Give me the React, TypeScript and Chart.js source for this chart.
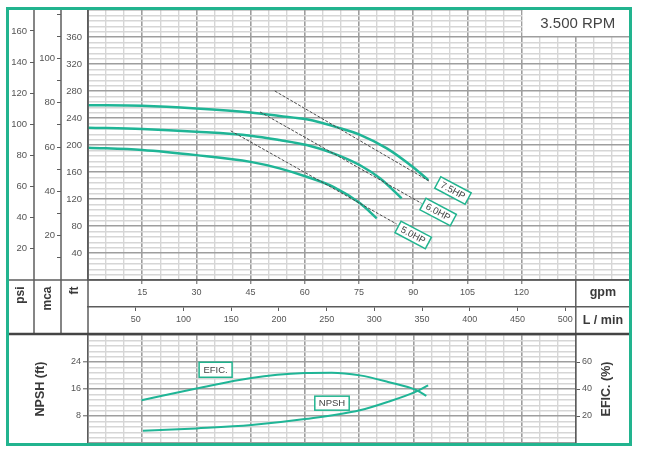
import React, { useEffect, useRef } from 'react';
import { Chart, registerables } from 'chart.js';

Chart.register(...registerables);

// ---------- data ----------
// Pump head curves (flow in gpm, head in ft)
const flow75 = [0, 15, 30, 45, 53, 60.5, 69.7, 75.3, 82.7, 90, 94.2];
const head75 = [259, 258, 254, 248, 243, 238, 225, 215, 195, 167, 148];
const flow60 = [0, 15, 30, 45, 53, 60.5, 67.9, 75.3, 80.8, 86.8];
const head60 = [225.6, 223.7, 219.7, 213.8, 207.4, 200, 187.7, 170, 150.6, 121];
const flow50 = [0, 15, 30, 45, 53, 60.5, 67.9, 75.3, 79.9];
const head50 = [196, 192.6, 185, 175, 165.4, 153, 138, 113.6, 91.4];

// Motor power limit lines
const hpFlow75 = [51.7, 94.7];
const hpHead75 = [280, 145.6];
const hpFlow60 = [47.6, 92.3];
const hpHead60 = [249, 113.6];
const hpFlow50 = [39.5, 85.4];
const hpHead50 = [221, 83];

// Power tags: name, gpm, ft
const hpTagNames = ['7.5HP', '6.0HP', '5.0HP'];
const hpTagFlow = [101, 96.9, 90];
const hpTagHead = [132.6, 100.7, 66.7];

// Efficiency and NPSH
const eficFlow = [14.8, 30, 45.2, 60, 67.4, 75.2, 83, 90.9, 93.6];
const eficPct = [31.7, 40.3, 48.2, 51.8, 52.1, 50.1, 45.2, 39.1, 34.9];
const npshFlow = [15.2, 30, 45.2, 60, 75.2, 83, 90.9, 94.1];
const npshFt = [3.63, 4.33, 5.3, 7.08, 9.7, 12.2, 15.3, 17.1];

// Tick labels
const gpmLabels = [15, 30, 45, 60, 75, 90, 105, 120];
const lpmLabels = [50, 100, 150, 200, 250, 300, 350, 400, 450, 500];
const psiLabels = [20, 40, 60, 80, 100, 120, 140, 160];
const mcaTicks = [10, 20, 30, 40, 50, 60, 70, 80, 90, 100, 110, 120];
const mcaLabels = [20, 40, 60, 80, 100];
const ftLabels = [40, 80, 120, 160, 200, 240, 280, 320, 360];
const npshLabels = [8, 16, 24];
const eficLabels = [20, 40, 60];

const RPM_TEXT = '3.500 RPM';

// ---------- constants ----------
const GPM_MAX = 150;
const GPM_MAX_LOW = 135;
const FT_MAX = 400;
const FT_PER_PSI = 2.30666;
const FT_PER_M = 3.28084;
const LPM_PER_GPM = 3.78541;
const NPSH_MAX = 32;
const EFIC_MAX = 80;

const GREEN = '#22b48f';
const CURVE = '#1fb596';
const TEXT = '#555555';
const TITLE = '#3a3a3a';
const DARK = '#5c5c5c';
const MAJOR = '#9e9e9e';
const MINOR = '#d6d6d6';
const FONT = '"Liberation Sans", Arial, Helvetica, sans-serif';

Chart.defaults.font.family = FONT;

// ---------- helpers ----------
const pts = (xs: number[], ys: number[]) => xs.map((x, i) => ({ x, y: ys[i] }));
const isMult = (v: number, m: number) => {
  const r = v / m;
  return Math.abs(r - Math.round(r)) < 1e-6;
};
const has = (arr: number[], v: number) => arr.some((a) => Math.abs(a - v) < 1e-6);
const steps = (max: number, step: number) => {
  const out: number[] = [];
  for (let k = 0; k * step <= max + 1e-9; k++) out.push(+(k * step).toFixed(6));
  return out;
};
const setTicks = (values: number[]) => (scale: any) => {
  scale.ticks = values.map((v) => ({ value: v }));
};
const fix = (dim: 'width' | 'height', size: number) => (scale: any) => {
  scale[dim] = size;
  scale.paddingTop = 0;
  scale.paddingBottom = 0;
  scale.paddingLeft = 0;
  scale.paddingRight = 0;
};
const tv = (c: any) => (c && c.tick ? c.tick.value : NaN);

function line(ctx: CanvasRenderingContext2D, x1: number, y1: number, x2: number, y2: number) {
  ctx.beginPath();
  ctx.moveTo(x1, y1);
  ctx.lineTo(x2, y2);
  ctx.stroke();
}

function tag(ctx: CanvasRenderingContext2D, x: number, y: number, text: string, angle: number, minW: number, h: number) {
  ctx.save();
  ctx.translate(x, y);
  ctx.rotate(angle);
  ctx.font = `9.5px ${FONT}`;
  const w = Math.max(ctx.measureText(text).width + 8, minW);
  ctx.fillStyle = '#ffffff';
  ctx.fillRect(-w / 2, -h / 2, w, h);
  ctx.strokeStyle = GREEN;
  ctx.lineWidth = 1.5;
  ctx.strokeRect(-w / 2, -h / 2, w, h);
  ctx.fillStyle = '#444444';
  ctx.textAlign = 'center';
  ctx.textBaseline = 'middle';
  ctx.fillText(text, 0, 0.5);
  ctx.restore();
}

function vText(ctx: CanvasRenderingContext2D, text: string, x: number, y: number, align: CanvasTextAlign, size: number) {
  ctx.save();
  ctx.translate(x, y);
  ctx.rotate(-Math.PI / 2);
  ctx.font = `bold ${size}px ${FONT}`;
  ctx.fillStyle = TITLE;
  ctx.textAlign = align;
  ctx.textBaseline = 'middle';
  ctx.fillText(text, 0, 0);
  ctx.restore();
}

// ---------- plugins ----------
const mainDecor = {
  id: 'mainDecor',
  afterDraw(chart: any) {
    const ctx: CanvasRenderingContext2D = chart.ctx;
    const s = chart.scales;
    const area = chart.chartArea;
    const rowEnd = s.lpm.bottom;
    const left = s.psi.left;
    const right = area.right;
    ctx.save();

    // RPM box
    const bx1 = s.x.getPixelForValue(120);
    const bx2 = s.x.getPixelForValue(GPM_MAX);
    const by1 = s.y.getPixelForValue(FT_MAX);
    const by2 = s.y.getPixelForValue(360);
    ctx.fillStyle = '#ffffff';
    ctx.fillRect(bx1 + 1, by1, bx2 - bx1 - 1, by2 - by1 - 1);
    ctx.fillStyle = '#444444';
    ctx.font = `15px ${FONT}`;
    ctx.textAlign = 'center';
    ctx.textBaseline = 'middle';
    ctx.fillText(RPM_TEXT, (bx1 + bx2) / 2 + 2, (by1 + by2) / 2 + 0.5);

    // frame lines
    ctx.strokeStyle = DARK;
    ctx.lineWidth = 1.5;
    [s.psi.right, s.mca.right, s.y.right].forEach((x: number) => line(ctx, x, area.top, x, rowEnd));
    line(ctx, left, area.bottom, right, area.bottom);
    const xd = s.x.getPixelForValue(GPM_MAX_LOW);
    line(ctx, xd, area.bottom, xd, rowEnd);
    ctx.strokeStyle = '#444444';
    ctx.lineWidth = 2.5;
    line(ctx, left, rowEnd, right, rowEnd);

    // unit titles
    const tTop = area.bottom + 6.5;
    vText(ctx, 'psi', (s.psi.left + s.psi.right) / 2, tTop, 'right', 12);
    vText(ctx, 'mca', (s.mca.left + s.mca.right) / 2, tTop, 'right', 12);
    vText(ctx, 'ft', (s.y.left + s.y.right) / 2, tTop, 'right', 12);
    ctx.font = `bold 12.5px ${FONT}`;
    ctx.fillStyle = TITLE;
    ctx.textAlign = 'center';
    ctx.textBaseline = 'middle';
    const cx = (xd + right) / 2;
    ctx.fillText('gpm', cx, (s.x.top + s.x.bottom) / 2 - 0.5);
    ctx.fillText('L / min', cx, (s.lpm.top + s.lpm.bottom) / 2 + 0.5);

    // power tags
    hpTagNames.forEach((name, i) => {
      tag(ctx, s.x.getPixelForValue(hpTagFlow[i]), s.y.getPixelForValue(hpTagHead[i]), name, (28 * Math.PI) / 180, 0, 13);
    });
    ctx.restore();
  },
};

const lowDecor = {
  id: 'lowDecor',
  afterDraw(chart: any) {
    const ctx: CanvasRenderingContext2D = chart.ctx;
    const s = chart.scales;
    const area = chart.chartArea;
    vText(ctx, 'EFIC. (%)', s.efic.right - 23, (area.top + area.bottom) / 2, 'center', 12.5);
    tag(ctx, s.x.getPixelForValue(35.3), s.npsh.getPixelForValue(21.7), 'EFIC.', 0, 33, 15);
    tag(ctx, s.x.getPixelForValue(67.5), s.npsh.getPixelForValue(11.8), 'NPSH', 0, 32, 14);
  },
};

// ---------- configs ----------
const gridColor = (m: number) => (c: any) => (isMult(tv(c), m) ? MAJOR : MINOR);
const gridWidth = (m: number) => (c: any) => (isMult(tv(c), m) ? 1.6 : 1.4);

function topConfig(): any {
  const curve = (data: any) => ({
    data,
    xAxisID: 'x',
    yAxisID: 'y',
    borderColor: CURVE,
    borderWidth: 2.5,
    pointRadius: 0,
    fill: false,
    cubicInterpolationMode: 'monotone',
  });
  const hp = (data: any) => ({
    data,
    xAxisID: 'x',
    yAxisID: 'y',
    borderColor: '#4a4a4a',
    borderWidth: 1,
    borderDash: [3, 1.5],
    pointRadius: 0,
    fill: false,
    tension: 0,
  });
  return {
    type: 'line',
    data: {
      datasets: [
        hp(pts(hpFlow75, hpHead75)),
        hp(pts(hpFlow60, hpHead60)),
        hp(pts(hpFlow50, hpHead50)),
        curve(pts(flow75, head75)),
        curve(pts(flow60, head60)),
        curve(pts(flow50, head50)),
      ],
    },
    options: {
      animation: false,
      responsive: false,
      events: [],
      layout: { padding: { left: 8, right: 18, top: 10, bottom: 6 } },
      plugins: { legend: { display: false }, tooltip: { enabled: false } },
      scales: {
        x: {
          type: 'linear',
          axis: 'x',
          position: 'bottom',
          weight: 0,
          min: 0,
          max: GPM_MAX,
          afterBuildTicks: setTicks(steps(GPM_MAX, 5)),
          afterFit: fix('height', 27),
          ticks: {
            autoSkip: false,
            maxRotation: 0,
            padding: 3,
            color: TEXT,
            font: { size: 9 },
            callback: (v: number) => (has(gpmLabels, v) ? String(v) : ''),
          },
          grid: {
            color: gridColor(15),
            lineWidth: gridWidth(15),
            drawTicks: true,
            tickLength: 4,
            tickWidth: 1,
            tickColor: (c: any) => (has(gpmLabels, tv(c)) ? DARK : 'rgba(0,0,0,0)'),
          },
          border: { display: true, color: DARK, width: 1.5 },
        },
        lpm: {
          type: 'linear',
          axis: 'x',
          position: 'bottom',
          weight: 1,
          min: 0,
          max: GPM_MAX * LPM_PER_GPM,
          afterBuildTicks: setTicks(lpmLabels),
          afterFit: fix('height', 27),
          ticks: { autoSkip: false, maxRotation: 0, padding: 3, color: TEXT, font: { size: 9 } },
          grid: { drawOnChartArea: false, drawTicks: true, tickLength: 4, color: DARK, tickWidth: 1 },
          border: { display: true, color: DARK, width: 1.5 },
        },
        psi: {
          type: 'linear',
          axis: 'y',
          position: 'left',
          weight: 3,
          min: 0,
          max: FT_MAX / FT_PER_PSI,
          afterBuildTicks: setTicks(psiLabels),
          afterFit: fix('width', 26),
          ticks: { autoSkip: false, padding: 3, color: TEXT, font: { size: 9.5 } },
          grid: { drawOnChartArea: false, tickLength: 4, color: DARK, tickWidth: 1 },
          border: { display: false },
        },
        mca: {
          type: 'linear',
          axis: 'y',
          position: 'left',
          weight: 2,
          min: 0,
          max: FT_MAX / FT_PER_M,
          afterBuildTicks: setTicks(mcaTicks),
          afterFit: fix('width', 27),
          ticks: {
            autoSkip: false,
            padding: 2,
            color: TEXT,
            font: { size: 9.5 },
            callback: (v: number) => (has(mcaLabels, v) ? String(v) : ''),
          },
          grid: { drawOnChartArea: false, tickLength: 4, color: DARK, tickWidth: 1 },
          border: { display: false },
        },
        y: {
          type: 'linear',
          axis: 'y',
          position: 'left',
          weight: 1,
          min: 0,
          max: FT_MAX,
          afterBuildTicks: setTicks(steps(FT_MAX, 8)),
          afterFit: fix('width', 27),
          ticks: {
            autoSkip: false,
            padding: 6,
            color: TEXT,
            font: { size: 9.5 },
            callback: (v: number) => (has(ftLabels, v) ? String(v) : ''),
          },
          grid: { color: gridColor(40), lineWidth: gridWidth(40), drawTicks: false },
          border: { display: true, color: DARK, width: 1.5 },
        },
      },
    },
    plugins: [mainDecor],
  };
}

function lowConfig(): any {
  const curve = (data: any, axis: string) => ({
    data,
    xAxisID: 'x',
    yAxisID: axis,
    borderColor: CURVE,
    borderWidth: 2,
    pointRadius: 0,
    fill: false,
    cubicInterpolationMode: 'monotone',
  });
  return {
    type: 'line',
    data: {
      datasets: [curve(pts(eficFlow, eficPct), 'efic'), curve(pts(npshFlow, npshFt), 'npsh')],
    },
    options: {
      animation: false,
      responsive: false,
      events: [],
      layout: { padding: { left: 8, right: 18, top: 1, bottom: 22 } },
      plugins: { legend: { display: false }, tooltip: { enabled: false } },
      scales: {
        x: {
          type: 'linear',
          axis: 'x',
          position: 'bottom',
          min: 0,
          max: GPM_MAX_LOW,
          afterBuildTicks: setTicks(steps(GPM_MAX_LOW, 5)),
          afterFit: fix('height', 0),
          ticks: { display: false },
          grid: { color: gridColor(15), lineWidth: gridWidth(15), drawTicks: false },
          border: { display: false },
        },
        npsh: {
          type: 'linear',
          axis: 'y',
          position: 'left',
          min: 0,
          max: NPSH_MAX,
          afterBuildTicks: setTicks(steps(NPSH_MAX, 1.6)),
          afterFit: fix('width', 80),
          ticks: {
            autoSkip: false,
            padding: 2,
            color: TEXT,
            font: { size: 9 },
            callback: (v: number) => (has(npshLabels, v) ? String(Math.round(v)) : ''),
          },
          grid: {
            color: gridColor(8),
            lineWidth: gridWidth(8),
            drawTicks: true,
            tickLength: 5,
            tickWidth: 1,
            tickColor: (c: any) => (has(npshLabels, tv(c)) ? DARK : 'rgba(0,0,0,0)'),
          },
          border: { display: true, color: DARK, width: 1.5 },
          title: {
            display: true,
            text: 'NPSH (ft)',
            color: TITLE,
            font: { size: 12.5, weight: 'bold' },
            padding: { top: 25.5, bottom: 0 },
          },
        },
        efic: {
          type: 'linear',
          axis: 'y',
          position: 'right',
          min: 0,
          max: EFIC_MAX,
          afterBuildTicks: setTicks(eficLabels),
          afterFit: fix('width', 54),
          ticks: { autoSkip: false, padding: 2, color: TEXT, font: { size: 9 } },
          grid: { drawOnChartArea: false, tickLength: 4, color: DARK, tickWidth: 1 },
          border: { display: true, color: DARK, width: 1.5 },
        },
      },
    },
    plugins: [lowDecor],
  };
}

export default function App() {
  const topRef = useRef<HTMLCanvasElement>(null);
  const lowRef = useRef<HTMLCanvasElement>(null);

  useEffect(() => {
    const c1 = new Chart(topRef.current as HTMLCanvasElement, topConfig());
    const c2 = new Chart(lowRef.current as HTMLCanvasElement, lowConfig());
    return () => {
      c1.destroy();
      c2.destroy();
    };
  }, []);

  return (
    <div style={{ position: 'absolute', left: 0, top: 0, width: 648, height: 465, background: '#ffffff' }}>
      <canvas
        ref={lowRef}
        width={648}
        height={131}
        style={{ position: 'absolute', left: 0, top: 334, width: 648, height: 131 }}
      />
      <canvas
        ref={topRef}
        width={648}
        height={340}
        style={{ position: 'absolute', left: 0, top: 0, width: 648, height: 340 }}
      />
      <div
        style={{
          position: 'absolute',
          left: 6,
          top: 7,
          width: 626,
          height: 439,
          border: `3px solid ${GREEN}`,
          boxSizing: 'border-box',
          pointerEvents: 'none',
        }}
      />
    </div>
  );
}
